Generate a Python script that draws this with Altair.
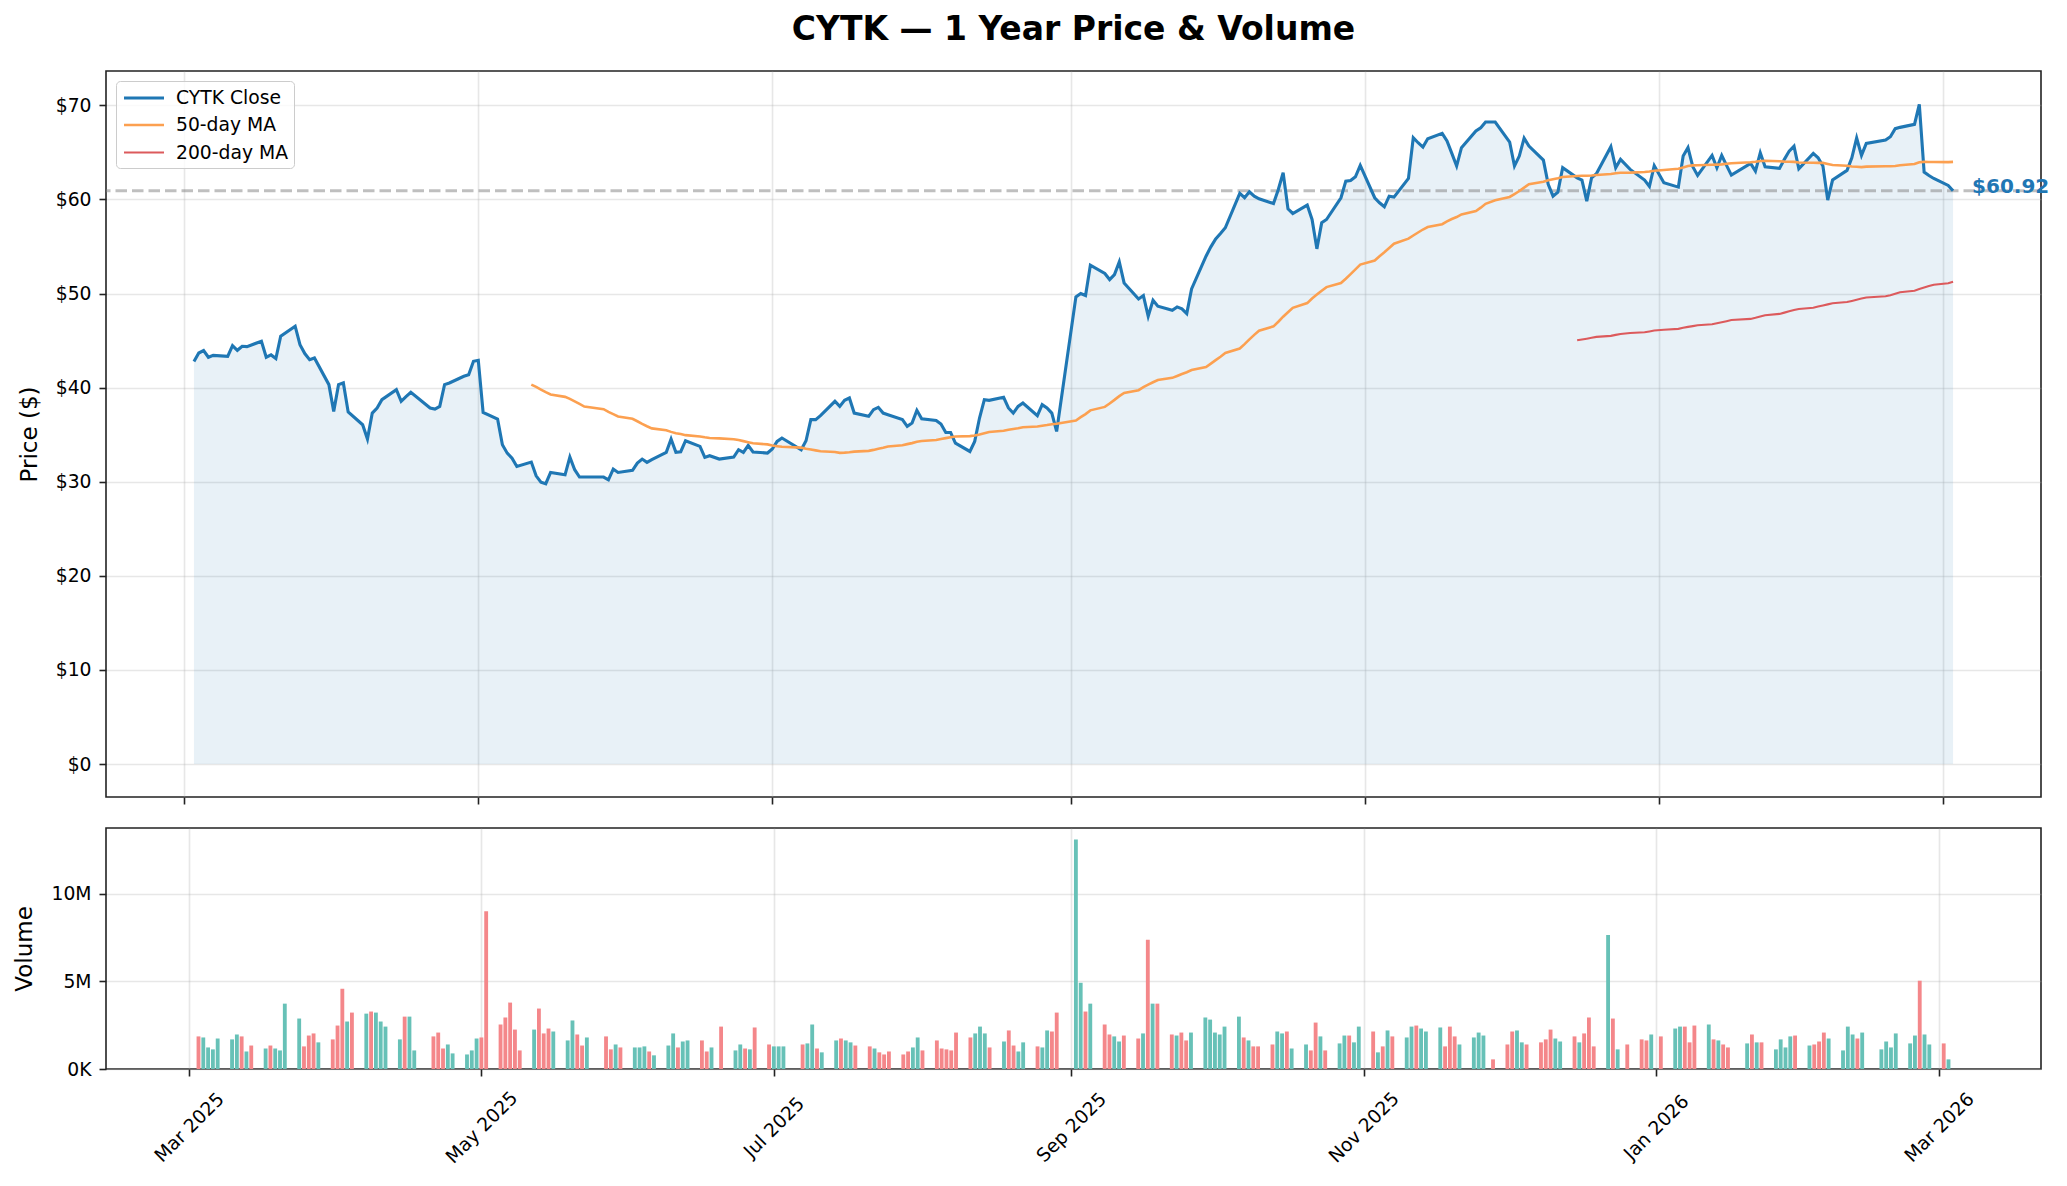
import altair as alt
import pandas as pd

# closing prices by month
close_mar25 = [42.79, 43.68, 43.94, 43.23, 43.43, 43.33, 44.47, 43.97, 44.40, 44.36, 44.93,
               43.23, 43.48, 43.09, 45.46, 46.53, 44.57, 43.62, 42.98, 43.16, 40.32]
close_apr25 = [37.48, 40.32, 40.50, 37.41, 36.06, 34.54, 37.30, 37.84, 38.72, 39.79, 38.55,
               39.04, 39.50, 37.84, 37.73, 38.01, 40.32, 40.50, 41.21, 41.38, 42.80]
close_may25 = [42.91, 37.37, 36.66, 33.93, 33.04, 32.51, 31.62, 32.09, 30.63, 29.96, 29.79,
               30.99, 30.74, 32.62, 31.28, 30.50, 30.50, 30.50, 30.21, 31.35, 30.99]
close_jun25 = [31.21, 31.99, 32.41, 32.06, 32.34, 33.12, 34.54, 33.12, 33.19, 34.36, 33.76,
               32.59, 32.77, 32.41, 32.62, 33.40, 33.12, 33.87, 33.16, 33.05]
close_jul25 = [33.48, 34.29, 34.65, 33.40, 34.36, 36.60, 36.60, 37.02, 38.55, 38.01, 38.65,
               38.90, 37.30, 36.95, 37.66, 37.91, 37.30, 37.13, 36.60, 35.89, 36.24, 37.59]
close_aug25 = [36.70, 36.52, 36.13, 35.24, 35.24, 34.11, 33.22, 34.29, 36.77, 38.72, 38.65,
               38.97, 37.84, 37.30, 38.01, 38.37, 37.02, 38.19, 37.84, 37.30, 35.35]
close_sep25 = [49.65, 50.00, 49.79, 53.02, 52.13, 51.49, 52.02, 53.37, 51.13, 49.43, 49.79,
               47.59, 49.29, 48.65, 48.23, 48.58, 48.37, 47.87, 50.50, 53.97, 54.96]
close_oct25 = [55.81, 56.38, 56.99, 60.64, 60.18, 60.82, 60.35, 60.07, 59.57, 61.06, 62.84,
               59.01, 58.51, 59.40, 57.87, 54.75, 57.52, 57.87, 60.18, 61.95, 62.02, 62.41, 63.62]
close_nov25 = [60.18, 59.65, 59.22, 60.35, 60.25, 62.23, 66.56, 66.03, 65.57, 66.45, 67.02,
               66.21, 64.89, 63.55, 65.50, 67.27, 67.62, 68.23, 68.23]
close_dec25 = [66.10, 63.55, 64.61, 66.52, 65.67, 64.18, 61.60, 60.35, 60.78, 63.37, 62.30,
               62.06, 59.82, 62.30, 62.73, 65.60, 63.37, 64.26, 63.19, 62.06, 61.38, 63.58]
close_jan26 = [61.77, 61.31, 64.61, 65.50, 63.48, 62.55, 64.68, 63.37, 64.68, 63.62, 62.59,
               63.83, 63.01, 64.96, 63.48, 63.30, 64.26, 65.14, 65.67, 63.26]
close_feb26 = [64.89, 64.43, 63.55, 59.93, 62.06, 63.09, 64.43, 66.53, 64.68, 65.96, 66.31,
               66.67, 67.52, 67.66, 67.98, 70.10, 62.91, 62.55, 62.23]
close_mar26 = [61.49, 60.92]

# volume in millions
vol_mar25 = [1.86, 1.80, 1.23, 1.12, 1.74, 1.69, 1.97, 1.86, 1.00, 1.34, 1.17, 1.34, 1.17, 1.06,
             3.73, 2.88, 1.29, 1.91, 2.03, 1.52, 1.69]
vol_apr25 = [2.48, 4.58, 2.71, 3.22, 3.16, 3.28, 3.22, 2.71, 2.42, 1.69, 2.99, 2.99, 1.06, 1.86,
             2.08, 1.17, 1.40, 0.89, 0.83, 1.06, 1.74]
vol_may25 = [1.80, 9.00, 2.54, 2.94, 3.79, 2.25, 1.06, 2.25, 3.45, 2.03, 2.31, 2.14, 1.63, 2.77,
             1.97, 1.34, 1.80, 1.86, 1.12, 1.40, 1.23]
vol_jun25 = [1.23, 1.23, 1.29, 1.00, 0.78, 1.34, 2.03, 1.23, 1.57, 1.63, 1.63, 1.00, 1.23, 2.42,
             1.06, 1.40, 1.17, 1.12, 2.37, 1.40]
vol_jul25 = [1.29, 1.29, 1.29, 1.40, 1.46, 2.54, 1.17, 0.95, 1.63, 1.74, 1.63, 1.52, 1.34, 1.29,
             1.17, 0.95, 0.83, 1.00, 0.83, 1.00, 1.23, 1.80]
vol_aug25 = [1.06, 1.63, 1.17, 1.12, 1.06, 2.08, 1.80, 2.03, 2.42, 2.03, 1.23, 1.57, 2.20, 1.34,
             1.00, 1.52, 1.29, 1.23, 2.20, 2.14, 3.22]
vol_sep25 = [13.10, 4.92, 3.28, 3.73, 2.54, 1.97, 1.86, 1.57, 1.91, 1.74, 2.03, 7.37, 3.73, 3.73,
             1.97, 1.91, 2.08, 1.63, 2.08, 2.94, 2.82]
vol_oct25 = [2.08, 1.97, 2.42, 2.99, 1.80, 1.63, 1.29, 1.29, 1.40, 2.14, 2.03, 2.14, 1.17, 1.40,
             1.06, 2.65, 1.86, 1.06, 1.46, 1.91, 1.91, 1.52, 2.42]
vol_nov25 = [2.14, 0.95, 1.29, 2.20, 1.86, 1.80, 2.42, 2.48, 2.31, 2.14, 2.37, 1.29, 2.42, 1.86,
             1.40, 1.80, 2.08, 1.91, 0.55]
vol_dec25 = [1.40, 2.14, 2.20, 1.52, 1.40, 1.52, 1.69, 2.25, 1.74, 1.57, 1.86, 1.52, 2.03, 2.94,
             1.29, 7.65, 2.88, 1.12, 1.40, 1.69, 1.63, 1.97]
vol_jan26 = [1.86, 2.31, 2.42, 2.42, 1.52, 2.48, 2.54, 1.69, 1.63, 1.40, 1.23, 1.46, 1.97, 1.52,
             1.52, 1.12, 1.69, 1.23, 1.86, 1.91]
vol_feb26 = [1.34, 1.40, 1.57, 2.08, 1.74, 1.06, 2.42, 1.97, 1.74, 2.08, 1.12, 1.57, 1.23, 2.03,
             1.46, 1.91, 5.04, 1.97, 1.40]
vol_mar26 = [1.46, 0.55]

# 1 = up day (green bar), 0 = down day (red bar)
up_mar25 = [0, 1, 1, 1, 1, 1, 1, 0, 1, 0, 1, 0, 1, 1, 1, 1, 0, 0, 0, 1, 0]
up_apr25 = [0, 0, 1, 0, 1, 0, 1, 1, 1, 1, 0, 1, 1, 0, 0, 0, 1, 1, 1, 1, 1]
up_may25 = [0, 0, 0, 0, 0, 0, 0, 1, 0, 0, 0, 1, 1, 1, 0, 0, 1, 0, 0, 1, 0]
up_jun25 = [1, 1, 1, 0, 1, 1, 1, 0, 1, 1, 0, 0, 1, 0, 1, 1, 0, 1, 0, 0]
up_jul25 = [1, 1, 1, 0, 1, 1, 0, 1, 1, 0, 1, 1, 0, 0, 1, 0, 0, 0, 0, 0, 1, 1]
up_aug25 = [0, 0, 0, 0, 0, 0, 0, 1, 1, 1, 0, 1, 0, 0, 1, 1, 0, 1, 1, 0, 0]
up_sep25 = [1, 1, 0, 1, 0, 0, 1, 1, 0, 0, 1, 0, 1, 0, 0, 1, 0, 0, 1, 1, 1]
up_oct25 = [1, 1, 1, 1, 0, 1, 0, 0, 0, 1, 1, 0, 1, 1, 0, 0, 1, 0, 1, 1, 0, 1, 1]
up_nov25 = [0, 1, 0, 1, 0, 1, 1, 0, 1, 1, 1, 0, 0, 0, 1, 1, 1, 1, 0]
up_dec25 = [0, 0, 1, 1, 0, 0, 0, 0, 1, 1, 0, 1, 0, 0, 0, 1, 0, 1, 0, 0, 0, 1]
up_jan26 = [0, 1, 1, 0, 0, 0, 1, 0, 1, 0, 0, 1, 0, 1, 0, 1, 1, 1, 1, 0]
up_feb26 = [1, 0, 0, 0, 1, 1, 1, 1, 0, 1, 1, 1, 1, 1, 1, 1, 0, 1, 1]
up_mar26 = [0, 1]

market_holidays = ["2025-04-18", "2025-05-26", "2025-06-19", "2025-07-04", "2025-09-01",
                   "2025-11-27", "2025-12-25", "2026-01-01", "2026-01-19", "2026-02-16"]

tick_months = [(2025, 3), (2025, 5), (2025, 7), (2025, 9), (2025, 11), (2026, 1), (2026, 3)]
price_ticks = [0, 10, 20, 30, 40, 50, 60, 70]
volume_ticks = [0, 5, 10]

series_names = ["CYTK Close", "50-day MA", "200-day MA"]
series_colors = ["#1f77b4", "#fca050", "#dc5a5c"]

close = (close_mar25 + close_apr25 + close_may25 + close_jun25 + close_jul25 + close_aug25
         + close_sep25 + close_oct25 + close_nov25 + close_dec25 + close_jan26 + close_feb26 + close_mar26)
volume = (vol_mar25 + vol_apr25 + vol_may25 + vol_jun25 + vol_jul25 + vol_aug25 + vol_sep25
          + vol_oct25 + vol_nov25 + vol_dec25 + vol_jan26 + vol_feb26 + vol_mar26)
up = (up_mar25 + up_apr25 + up_may25 + up_jun25 + up_jul25 + up_aug25 + up_sep25 + up_oct25
      + up_nov25 + up_dec25 + up_jan26 + up_feb26 + up_mar26)

dates = pd.bdate_range("2025-03-03", "2026-03-03", freq="C", holidays=market_holidays)
df = pd.DataFrame({"date": dates, "close": close, "volume": volume, "up": up})

ultimo = pd.DataFrame({"date": [dates[-1]], "close": [close[-1]], "label": [f"${close[-1]:.2f}"]})

escala_x = alt.Scale(domain=[alt.DateTime(year=2025, month=2, date=12, hours=18),
                             alt.DateTime(year=2026, month=3, date=21, hours=6)])
valores_x = [alt.DateTime(year=a, month=m, date=1) for a, m in tick_months]
escala_preco = alt.Scale(domain=[-3.5, 73.65], nice=False, zero=False)

eixo_x_topo = alt.Axis(values=valores_x, labels=False, title=None)
eixo_x_base = alt.Axis(values=valores_x, format="%b %Y", title=None, labelAngle=-45,
                       labelAlign="center", labelBaseline="middle", labelPadding=51,
                       labelOverlap=False, labelFlush=False)
eixo_preco = alt.Axis(values=price_ticks, labelExpr="'$' + datum.value", title="Price ($)")

x_topo = alt.X("date:T", scale=escala_x, axis=eixo_x_topo)

legenda = alt.Legend(title=None, orient="top-left")

area = alt.Chart(df).mark_area(color="#1f77b4", opacity=0.1).encode(
    x=x_topo,
    y=alt.Y("close:Q", scale=escala_preco, axis=eixo_preco, title="Price ($)"),
    y2=alt.datum(0)
)

linhas = alt.Chart(df).transform_window(
    ma50="mean(close)", n50="count()", frame=[-49, 0], sort=[alt.SortField("date")]
).transform_window(
    ma200="mean(close)", n200="count()", frame=[-199, 0], sort=[alt.SortField("date")]
).transform_calculate(
    **{"CYTK Close": "datum.close",
       "50-day MA": "datum.n50 >= 50 ? datum.ma50 : null",
       "200-day MA": "datum.n200 >= 200 ? datum.ma200 : null"}
).transform_fold(
    series_names, as_=["series", "price"]
).transform_filter("isValid(datum.price)").mark_line().encode(
    x=x_topo,
    y=alt.Y("price:Q", scale=escala_preco, axis=eixo_preco, title="Price ($)"),
    color=alt.Color("series:N", sort=series_names,
                    scale=alt.Scale(domain=series_names, range=series_colors),
                    legend=legenda),
    strokeWidth=alt.StrokeWidth("series:N", sort=series_names,
                                scale=alt.Scale(domain=series_names, range=[3.1, 2.1, 2.1]),
                                legend=legenda),
    order=alt.Order("date:T")
)

referencia = alt.Chart(ultimo).mark_rule(color="#808080", opacity=0.5, strokeWidth=3,
                                         strokeDash=[11.5, 5]).encode(
    y=alt.Y("close:Q", scale=escala_preco, axis=eixo_preco, title="Price ($)")
)

rotulo = alt.Chart(ultimo).mark_text(align="left", baseline="alphabetic", dx=19, dy=2,
                                     fontSize=20, fontWeight="bold", color="#1f77b4").encode(
    x=x_topo,
    y=alt.Y("close:Q", scale=escala_preco, axis=eixo_preco, title="Price ($)"),
    text="label:N"
)

preco = alt.layer(area, referencia, linhas, rotulo).properties(
    width=1935,
    height=726,
    title=alt.Title("CYTK — 1 Year Price & Volume", fontSize=33, fontWeight="bold",
                    anchor="middle", frame="group", offset=24, color="black")
)

volume_chart = alt.Chart(df).mark_bar(size=3.85).encode(
    x=alt.X("date:T", scale=escala_x, axis=eixo_x_base),
    y=alt.Y("volume:Q", scale=alt.Scale(domain=[0, 13.755], nice=False),
            axis=alt.Axis(values=volume_ticks,
                          labelExpr="datum.value == 0 ? '0K' : datum.value + 'M'"),
            title="Volume"),
    color=alt.condition("datum.up == 1", alt.value("#67c1b7"), alt.value("#f4878a"))
).properties(width=1935, height=241)

chart = alt.vconcat(preco, volume_chart, spacing=21).properties(
    padding={"left": 5, "top": 5, "right": 5, "bottom": 5}
).configure(
    font="DejaVu Sans"
).configure_view(
    stroke="#222222", strokeWidth=1.6
).configure_axis(
    labelFontSize=18.75, titleFontSize=23, titleFontWeight="normal",
    labelColor="black", titleColor="black",
    tickColor="#222222", tickWidth=1.6, tickSize=7, labelPadding=8, titlePadding=14,
    domain=False, grid=True, gridColor="#b0b0b0", gridOpacity=0.3, gridWidth=1.6
).configure_legend(
    labelFontSize=18.75, labelColor="black", symbolType="M-2,0H2", symbolSize=400,
    symbolOffset=11, labelOffset=20, padding=5, rowPadding=5.5, offset=10,
    fillColor="rgba(255,255,255,0.8)", strokeColor="#cccccc", cornerRadius=4
)

chart.save("out.html", embed_options={"renderer": "svg", "actions": False})
